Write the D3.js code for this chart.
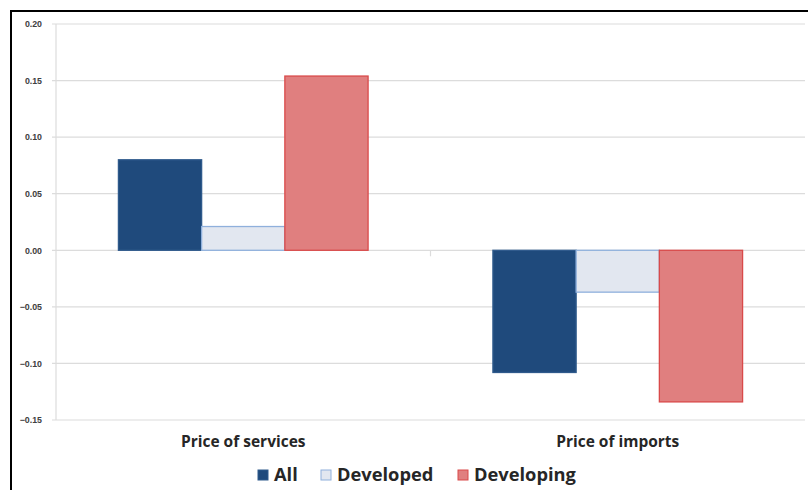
<!DOCTYPE html>
<html>
<head>
<meta charset="utf-8">
<script src="https://cdn.jsdelivr.net/npm/d3@7"></script>
<style>
body { margin: 0; background: #fff; }
svg { display: block; font-family: "Open Sans", "Liberation Sans", sans-serif; }
.tick text { fill: #404040; font-size: 8.8px; font-weight: 700; }
</style>
</head>
<body>
<div id="chart"></div>
<script>
const categories = ['Price of services', 'Price of imports']
const seriesNames = ['All', 'Developed', 'Developing']
const allValues = [0.080, -0.108]
const developedValues = [0.021, -0.037]
const developingValues = [0.154, -0.134]
const yTicks = [0.20, 0.15, 0.10, 0.05, 0.00, -0.05, -0.10, -0.15]

const fills = { All: '#1f4a7c', Developed: '#e2e7f0', Developing: '#e07f7f' }
const strokes = { All: '#2f5a8c', Developed: '#8fb0dc', Developing: '#d94a4a' }

const rows = categories.map((c, i) => ({
  cat: c,
  values: [allValues[i], developedValues[i], developingValues[i]]
}))

const width = 808, height = 490
const margin = { left: 56, right: 3, top: 24, bottom: 70 }

const svg = d3.select('#chart').append('svg')
  .attr('width', width)
  .attr('height', height)

// frame
svg.append('line').attr('x1', 11).attr('x2', 11).attr('y1', 10).attr('y2', height)
  .attr('stroke', '#000').attr('stroke-width', 2)
svg.append('line').attr('x1', 10).attr('x2', width).attr('y1', 11).attr('y2', 11)
  .attr('stroke', '#000').attr('stroke-width', 2)

const y = d3.scaleLinear()
  .domain([-0.15, 0.20])
  .range([420, margin.top])

const x0 = d3.scaleBand()
  .domain(categories)
  .range([margin.left, width - margin.right])

const x1 = d3.scaleBand()
  .domain(seriesNames)
  .range([0, x0.bandwidth()])
  .paddingOuter(0.75)

// grid
const grid = svg.append('g')
grid.selectAll('line')
  .data(yTicks)
  .enter()
  .append('line')
  .attr('x1', margin.left - 4)
  .attr('x2', width - margin.right)
  .attr('y1', d => y(d))
  .attr('y2', d => y(d))
  .attr('stroke', '#dcdcdc')
  .attr('stroke-width', 1.2)

svg.append('line')
  .attr('x1', margin.left).attr('x2', margin.left)
  .attr('y1', y(0.20)).attr('y2', y(-0.15))
  .attr('stroke', '#dcdcdc').attr('stroke-width', 1.2)

const yAxis = svg.append('g')
  .attr('transform', 'translate(' + (margin.left - 11) + ',0)')
  .call(d3.axisLeft(y).tickValues(yTicks).tickSize(0).tickFormat(d3.format('.2f')))
yAxis.select('.domain').remove()

// bars
const groups = svg.append('g')
  .selectAll('g')
  .data(rows)
  .enter()
  .append('g')
  .attr('transform', d => 'translate(' + x0(d.cat) + ',0)')

groups.selectAll('rect')
  .data(d => d.values.map((v, i) => ({ name: seriesNames[i], value: v })))
  .enter()
  .append('rect')
  .attr('x', d => x1(d.name))
  .attr('width', x1.bandwidth())
  .attr('y', d => y(Math.max(0, d.value)))
  .attr('height', d => Math.abs(y(d.value) - y(0)))
  .attr('fill', d => fills[d.name])
  .attr('stroke', d => strokes[d.name])
  .attr('stroke-width', 1.3)

// zero line tick between categories
svg.append('line')
  .attr('x1', x0(categories[1])).attr('x2', x0(categories[1]))
  .attr('y1', y(0)).attr('y2', y(0) + 6)
  .attr('stroke', '#dcdcdc').attr('stroke-width', 1.2)

// category labels
svg.append('g')
  .selectAll('text')
  .data(categories)
  .enter()
  .append('text')
  .attr('x', d => x0(d) + x0.bandwidth() / 2)
  .attr('y', 447)
  .attr('text-anchor', 'middle')
  .attr('font-size', 15.5)
  .attr('font-weight', 700)
  .attr('fill', '#262626')
  .text(d => d)

// legend
const legendX = [258, 321, 458]
const legend = svg.append('g')
  .selectAll('g')
  .data(seriesNames)
  .enter()
  .append('g')
  .attr('transform', (d, i) => 'translate(' + legendX[i] + ',470)')

legend.append('rect')
  .attr('width', 10).attr('height', 10)
  .attr('fill', d => fills[d])
  .attr('stroke', d => strokes[d])
  .attr('stroke-width', 1)

legend.append('text')
  .attr('x', 16)
  .attr('y', 11)
  .attr('font-size', 18.3)
  .attr('font-weight', 700)
  .attr('fill', '#262626')
  .text(d => d)
</script>
</body>
</html>
